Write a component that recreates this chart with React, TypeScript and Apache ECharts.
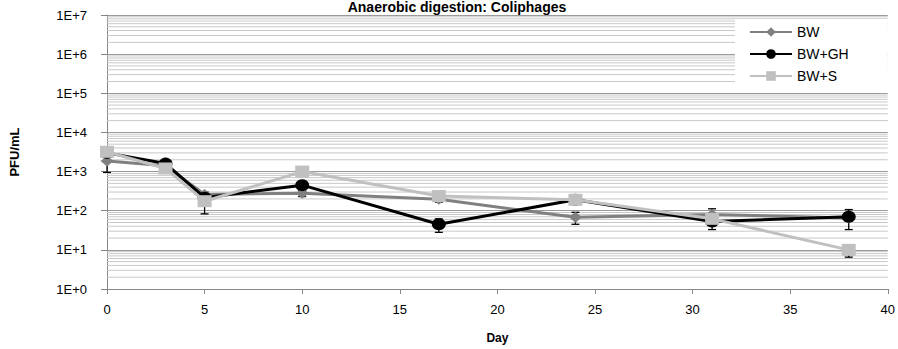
import React, { useEffect, useRef } from "react";
import * as echarts from "echarts";

const titleText = "Anaerobic digestion: Coliphages";
const days = [0, 3, 5, 10, 17, 24, 31, 38];
const seriesNames = ["BW", "BW+GH", "BW+S"];
const bw = [1850, 1400, 260, 280, 195, 68, 80, 65];
const bwSd = [900, 500, 40, 50, 30, 23, 32, 10];
const bwGh = [3000, 1600, 215, 450, 45, 190, 53, 70];
const bwGhSd = [300, 300, 30, 80, 17, 30, 20, 37];
const bwS = [3200, 1200, 175, 1000, 237, 190, 62, 10];
const bwSSd = [300, 100, 92, 100, 30, 25, 8, 3.5];
const xName = "Day";
const yName = "PFU/mL";
const decadeExponents = [0, 1, 2, 3, 4, 5, 6];
const minorMultipliers = [2, 3, 4, 5, 6, 7, 8, 9];

const FONT = "'Liberation Sans', Arial, sans-serif";

export default function App() {
  const ref = useRef<HTMLDivElement>(null);
  useEffect(() => {
    if (!ref.current) return;
    const chart = echarts.init(ref.current, undefined, { renderer: "svg" });

    const minorGrid: number[] = [];
    decadeExponents.forEach((e) =>
      minorMultipliers.forEach((m) => minorGrid.push(m * Math.pow(10, e)))
    );

    const errData: number[][] = [];
    const addErr = (vals: number[], sds: number[]) =>
      vals.forEach((v, i) => errData.push([days[i], v - sds[i], v + sds[i]]));
    addErr(bw, bwSd);
    addErr(bwGh, bwGhSd);
    addErr(bwS, bwSSd);

    const mk = (vals: number[]) => vals.map((v, i) => [days[i], v]);

    const option: any = {
      animation: false,
      backgroundColor: "#ffffff",
      textStyle: { fontFamily: FONT },
      graphic: [
        {
          type: "text",
          x: 457,
          y: 0,
          z: 10,
          style: {
            text: titleText,
            font: `bold 14px ${FONT}`,
            fill: "#000",
            textAlign: "center",
            textVerticalAlign: "top",
          },
        },
      ],
      grid: { left: 107, right: 6, top: 15, bottom: 54, containLabel: false },
      legend: {
        orient: "vertical",
        left: 735,
        top: 19,
        data: seriesNames,
        itemWidth: 42,
        itemHeight: 12,
        itemGap: 8,
        padding: [6, 39, 5, 14],
        backgroundColor: "#ffffff",
        textStyle: { fontFamily: FONT, fontSize: 14, color: "#000" },
      },
      xAxis: {
        type: "value",
        min: 0,
        max: 40,
        interval: 5,
        name: xName,
        nameLocation: "middle",
        nameGap: 43,
        nameTextStyle: { fontFamily: FONT, fontWeight: "bold", fontSize: 12, color: "#000" },
        axisLine: { lineStyle: { color: "#868686", width: 1 } },
        axisTick: { show: true, length: 5, lineStyle: { color: "#868686" } },
        axisLabel: { fontFamily: FONT, fontSize: 13, color: "#000", margin: 14 },
        splitLine: { show: false },
      },
      yAxis: {
        type: "log",
        logBase: 10,
        min: 1,
        max: 10000000,
        name: yName,
        nameLocation: "middle",
        nameGap: 86,
        nameTextStyle: { fontFamily: FONT, fontWeight: "bold", fontSize: 13, color: "#000" },
        axisLine: { show: true, lineStyle: { color: "#868686", width: 1 } },
        axisTick: { show: true, length: 6, lineStyle: { color: "#868686" } },
        axisLabel: {
          fontFamily: FONT,
          fontSize: 13,
          color: "#000",
          margin: 20,
          formatter: (v: number) => "1E+" + Math.round(Math.log10(v)),
        },
        splitLine: { show: true, lineStyle: { color: "#9a9a9a", width: 1 } },
      },
      series: [
        {
          type: "custom",
          name: "minorGrid",
          silent: true,
          z: 1,
          data: minorGrid.map((v) => [0, v]),
          renderItem: (params: any, api: any) => {
            const cs = params.coordSys;
            const p = api.coord([0, api.value(1)]);
            return {
              type: "line",
              shape: { x1: cs.x, y1: p[1], x2: cs.x + cs.width, y2: p[1] },
              style: { stroke: "#c8c8c8", lineWidth: 1 },
            };
          },
        },
        {
          type: "custom",
          name: "errorBars",
          silent: true,
          z: 2,
          data: errData,
          renderItem: (params: any, api: any) => {
            const lo = api.coord([api.value(0), api.value(1)]);
            const hi = api.coord([api.value(0), api.value(2)]);
            const hw = 4;
            const st = { stroke: "#000", lineWidth: 1.3 };
            return {
              type: "group",
              children: [
                { type: "line", shape: { x1: lo[0], y1: lo[1], x2: hi[0], y2: hi[1] }, style: st },
                { type: "line", shape: { x1: lo[0] - hw, y1: lo[1], x2: lo[0] + hw, y2: lo[1] }, style: st },
                { type: "line", shape: { x1: hi[0] - hw, y1: hi[1], x2: hi[0] + hw, y2: hi[1] }, style: st },
              ],
            };
          },
        },
        {
          type: "line",
          name: seriesNames[0],
          z: 3,
          data: mk(bw),
          symbol: "diamond",
          symbolSize: [13, 11],
          color: "#808080",
          lineStyle: { color: "#808080", width: 3 },
          itemStyle: { color: "#808080" },
        },
        {
          type: "line",
          name: seriesNames[1],
          z: 4,
          data: mk(bwGh),
          symbol: "circle",
          symbolSize: [14, 12],
          color: "#000000",
          lineStyle: { color: "#000000", width: 3 },
          itemStyle: { color: "#000000" },
        },
        {
          type: "line",
          name: seriesNames[2],
          z: 5,
          data: mk(bwS),
          symbol: "rect",
          symbolSize: [14, 12],
          color: "#c0c0c0",
          lineStyle: { color: "#c0c0c0", width: 3 },
          itemStyle: { color: "#c0c0c0" },
        },
      ],
    };
    chart.setOption(option);
    return () => chart.dispose();
  }, []);
  return (
    <div
      ref={ref}
      style={{ position: "fixed", left: 0, top: 0, width: 898, height: 349 }}
    />
  );
}
